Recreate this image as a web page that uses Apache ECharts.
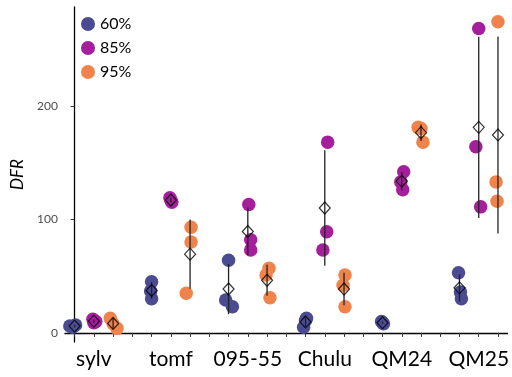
<!DOCTYPE html>
<html>
<head>
<meta charset="utf-8">
<script src="https://cdn.jsdelivr.net/npm/echarts@6/dist/echarts.min.js"></script>
<style>html,body{margin:0;padding:0;background:#fff}#c{width:512px;height:377px}</style>
</head>
<body>
<div id="c"></div>
<script>
var categories = ['sylv', 'tomf', '095-55', 'Chulu', 'QM24', 'QM25'];
var levels = ['60%', '85%', '95%'];
var yTicks = [0, 100, 200];
// values per category (3 replicates)
var values60 = [[6, 7, 5], [45, 37, 30], [64, 29, 23], [13, 11, 5], [10, 9, 8], [53, 36, 30]];
var values85 = [[12, 10, 9], [119, 117, 115], [113, 82, 73], [168, 89, 73], [142, 133, 126], [268, 164, 111]];
var values95 = [[13, 8, 4], [93, 80, 35], [57, 51, 31], [51, 42, 23], [181, 180, 168], [274, 133, 116]];
// horizontal jitter of replicates (fraction of slot)
var jitter60 = [[-0.25, 0.05, -0.1], [0, -0.05, 0], [0, -0.15, 0.2], [0.05, 0, -0.1], [-0.05, 0, 0.05], [-0.05, 0.05, 0.1]];
var jitter85 = [[-0.05, 0.1, 0], [-0.05, 0, 0.05], [0.05, 0.15, 0.15], [0.15, 0.1, -0.1], [0.1, -0.05, 0.05], [0, -0.15, 0.1]];
var jitter95 = [[-0.15, 0, 0.2], [0.05, 0.05, -0.2], [0.1, -0.05, 0.15], [0.05, -0.05, 0.05], [-0.15, 0, 0.1], [0, -0.1, -0.05]];

var colors = ['#4B4B91', '#A51E9B', '#F0824B'];
var allValues = [values60, values85, values95];
var allJitter = [jitter60, jitter85, jitter95];

var slots = [];
for (var g = 0; g < categories.length; g++) {
  for (var k = 0; k < 4; k++) {
    if (g === categories.length - 1 && k === 3) break;
    slots.push(k === 1 ? categories[g] : ' ' + g + '_' + k);
  }
}

function mean(a) { return a.reduce(function (s, v) { return s + v; }, 0) / a.length; }
function sd(a) { var m = mean(a); return Math.sqrt(a.reduce(function (s, v) { return s + (v - m) * (v - m); }, 0) / (a.length - 1)); }

var series = [];
var diamonds = [], bars = [];
levels.forEach(function (lv, l) {
  var pts = [];
  allValues[l].forEach(function (reps, g) {
    var xc = 4 * g + l;
    reps.forEach(function (v, r) { pts.push([xc + allJitter[l][g][r], v]); });
    var m = mean(reps), s = sd(reps);
    diamonds.push([xc, m]);
    bars.push([xc, m - s, m + s]);
  });
  series.push({
    name: lv, type: 'scatter', xAxisIndex: 1, data: pts, symbol: 'circle', symbolSize: 13.5,
    itemStyle: { color: colors[l], opacity: 1 }, z: 2
  });
});
series.push({
  type: 'custom', xAxisIndex: 1, data: bars, z: 3,
  renderItem: function (params, api) {
    var p1 = api.coord([api.value(0), api.value(1)]);
    var p2 = api.coord([api.value(0), api.value(2)]);
    return { type: 'line', shape: { x1: p1[0], y1: p1[1], x2: p2[0], y2: p2[1] },
      style: { stroke: '#222', lineWidth: 1.3 } };
  },
  encode: { x: 0, y: [1, 2] }
});
series.push({
  type: 'scatter', xAxisIndex: 1, data: diamonds, symbol: 'diamond', symbolSize: [11, 12], z: 4,
  itemStyle: { color: 'rgba(0,0,0,0)', borderColor: '#000', borderWidth: 1.2 }
});

var chart = echarts.init(document.getElementById('c'), null, { renderer: 'canvas' });
chart.setOption({
  animation: false,
  textStyle: { fontFamily: 'Lato' },
  grid: { left: 65, right: 1, top: 7, bottom: 35, containLabel: false },
  legend: {
    data: levels, orient: 'vertical', left: 76, top: 11, itemWidth: 14, itemHeight: 14, itemGap: 8,
    icon: 'circle', textStyle: { fontSize: 16, color: '#000', fontFamily: 'Lato' }
  },
  xAxis: [{
    type: 'category', data: slots, boundaryGap: true,
    axisLine: { lineStyle: { color: '#000', width: 1.3 } },
    axisTick: { show: true, interval: 0, alignWithLabel: true, length: 4, lineStyle: { color: '#333' } },
    axisLabel: { interval: 0, fontSize: 21, color: '#000', margin: 7, fontFamily: 'Lato',
      formatter: function (v) { return v.charAt(0) === ' ' ? '' : v; } },
    splitLine: { show: false }
  }, {
    type: 'value', min: -0.5, max: slots.length - 0.5, show: false
  }],
  yAxis: {
    type: 'value', min: -8, max: 287,
    name: 'DFR', nameLocation: 'middle', nameGap: 39, nameRotate: 90,
    nameTextStyle: { fontSize: 17, fontStyle: 'italic', color: '#000', fontFamily: 'Lato' },
    axisLine: { show: true, lineStyle: { color: '#000', width: 1.3 } },
    axisTick: { show: true, length: 4, customValues: yTicks, lineStyle: { color: '#333' } },
    axisLabel: { customValues: yTicks, fontSize: 12, color: '#4d4d4d', margin: 7, fontFamily: 'Lato' },
    splitLine: { show: false }
  },
  series: series
});
</script>
</body>
</html>
